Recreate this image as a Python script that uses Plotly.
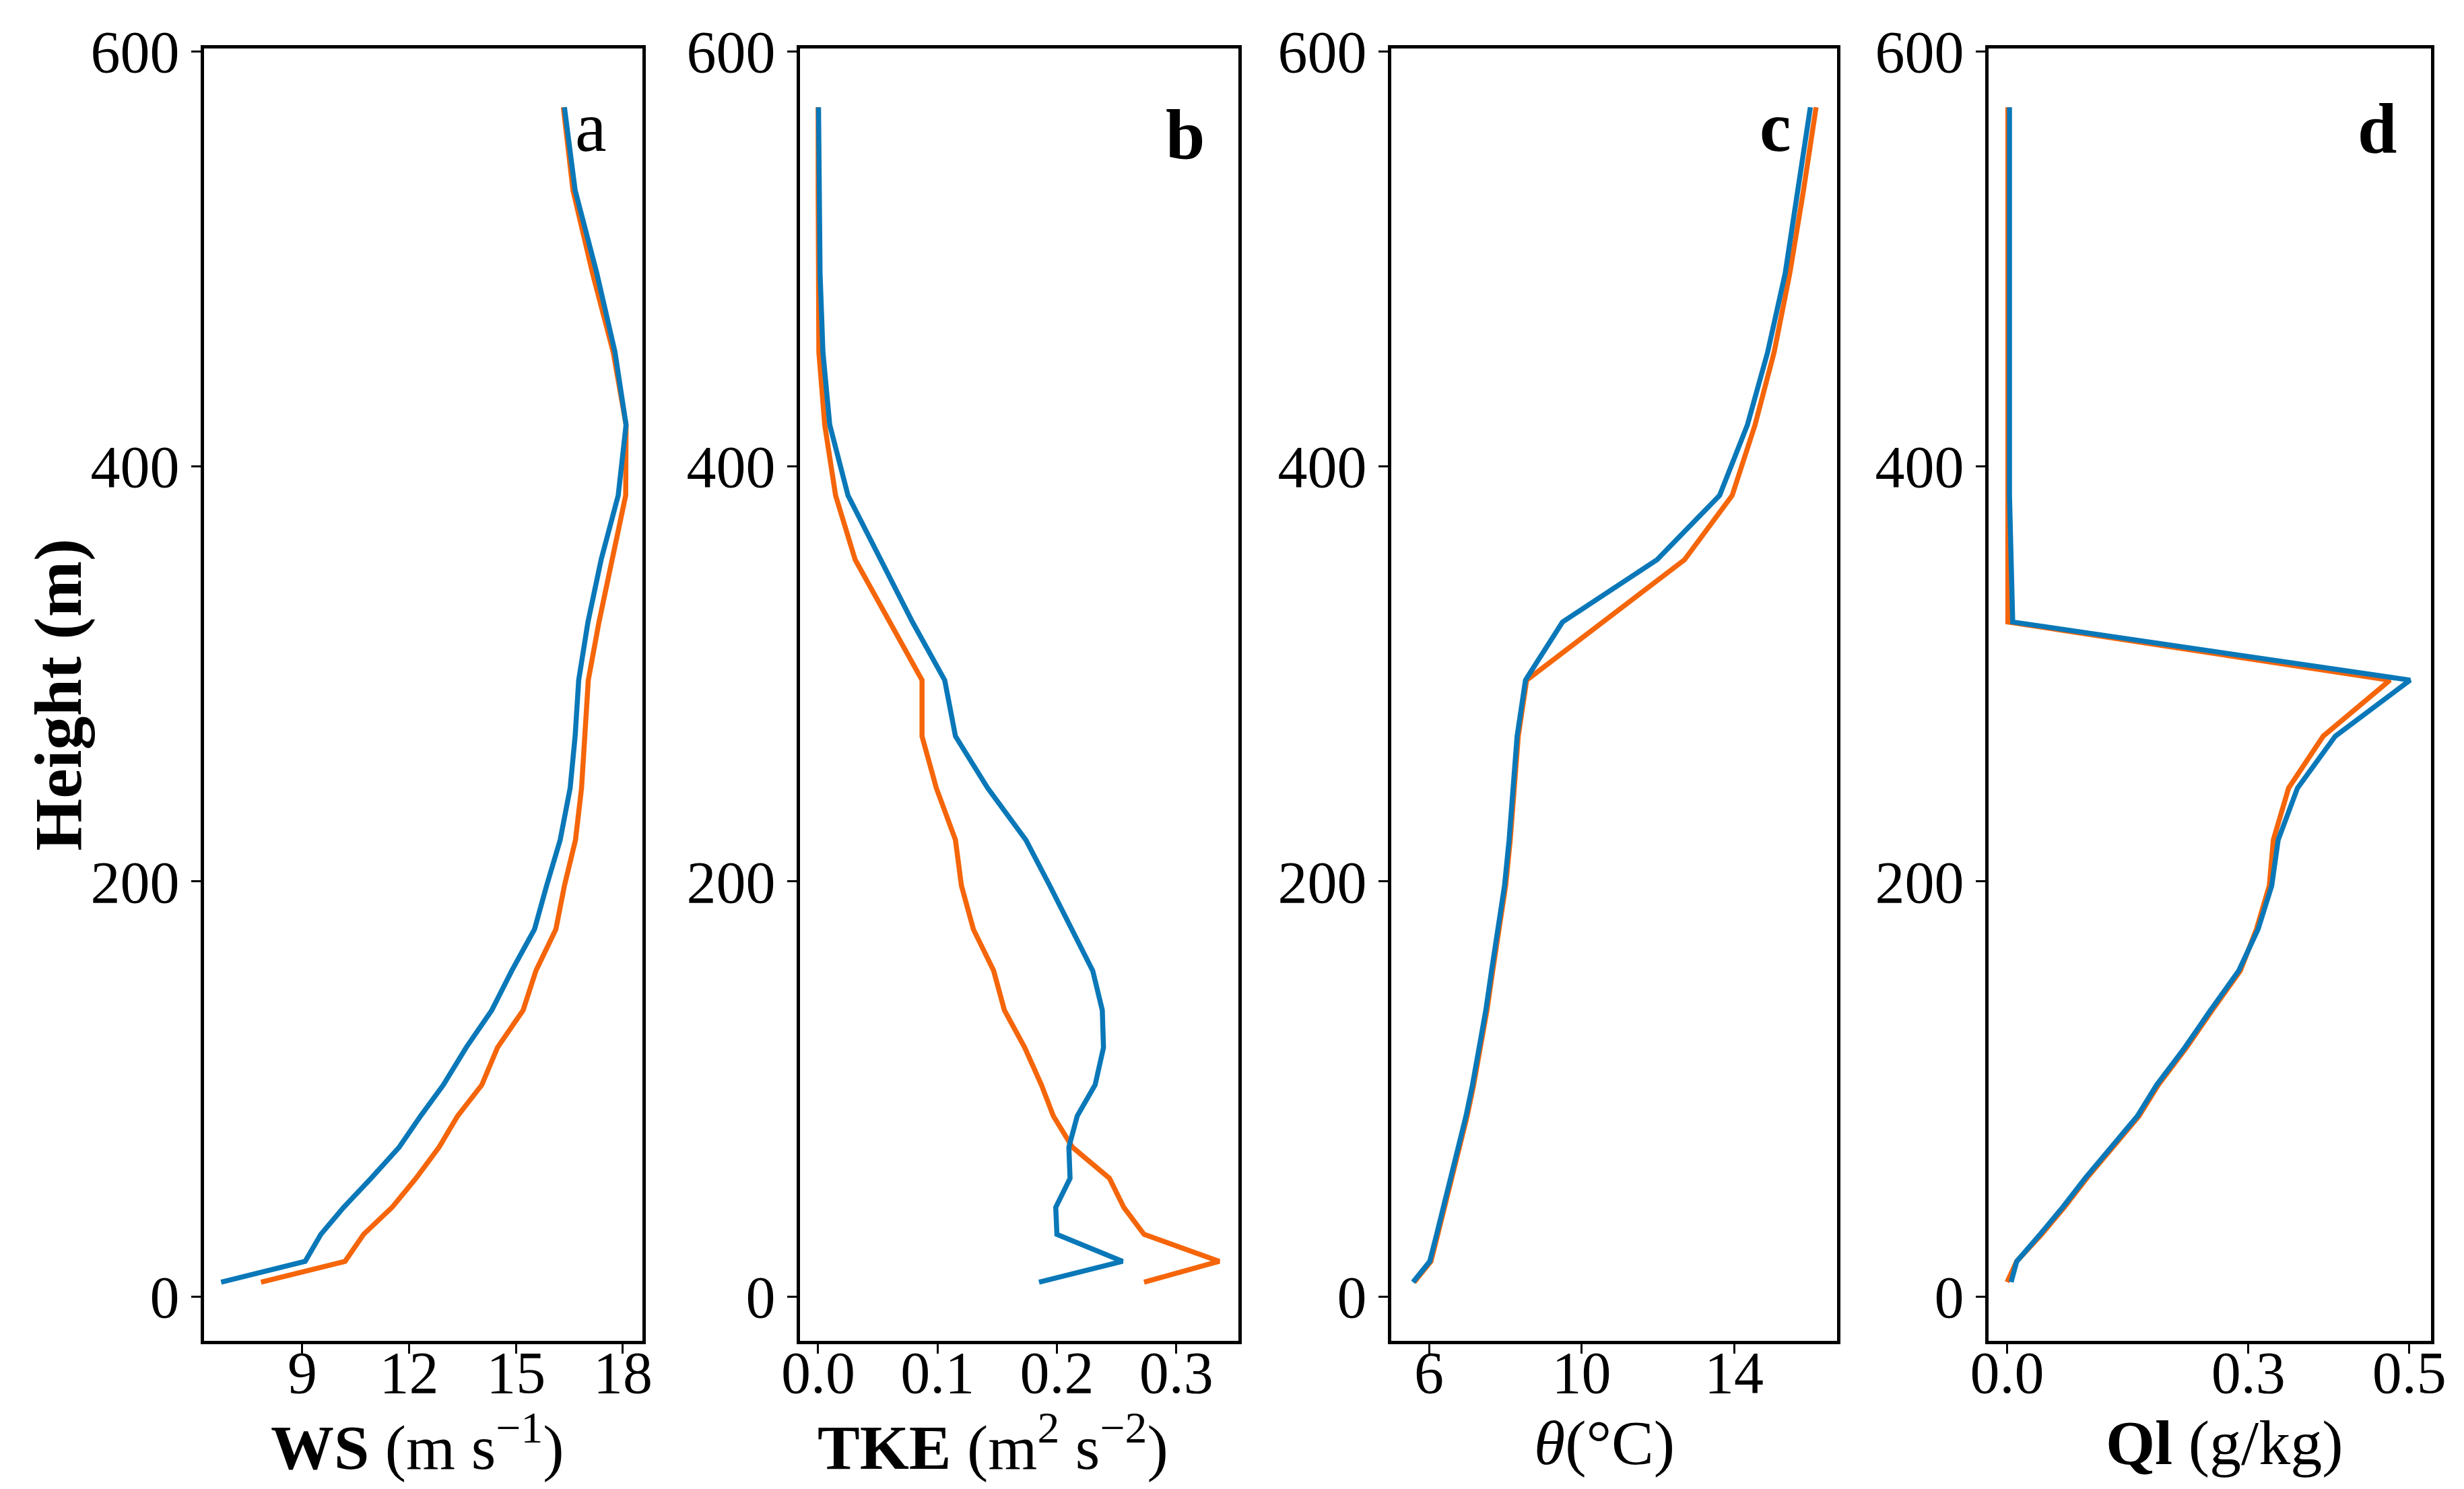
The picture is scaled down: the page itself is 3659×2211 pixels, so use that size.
import plotly.graph_objects as go

# heights of the model levels (m)
height = [7, 17, 30, 43, 57, 72, 87, 102, 120, 138, 157, 177, 198, 220, 245, 270,
          297, 325, 355, 386, 420, 455, 493, 533, 573]

# a: wind speed (m/s)
ws_blue = [6.72, 9.08, 9.52, 10.16, 10.93, 11.72, 12.32, 12.96, 13.60, 14.32, 14.88, 15.52,
           15.86, 16.24, 16.52, 16.66, 16.76, 17.02, 17.39, 17.87, 18.09, 17.78, 17.27, 16.66, 16.36]
ws_orange = [7.84, 10.20, 10.72, 11.52, 12.19, 12.84, 13.36, 14.04, 14.48, 15.20, 15.56, 16.12,
             16.36, 16.67, 16.84, 16.94, 17.03, 17.33, 17.69, 18.08, 18.09, 17.73, 17.15, 16.60, 16.33]

# b: turbulent kinetic energy (m2/s2)
tke_blue = [0.185, 0.255, 0.200, 0.199, 0.211, 0.210, 0.217, 0.232, 0.239, 0.238, 0.230, 0.213,
            0.194, 0.174, 0.142, 0.115, 0.106, 0.079, 0.052, 0.025, 0.0097, 0.004, 0.0016, 0.0006, 0.0003]
tke_orange = [0.273, 0.336, 0.273, 0.256, 0.244, 0.213, 0.197, 0.187, 0.173, 0.156, 0.147, 0.130,
              0.120, 0.115, 0.099, 0.087, 0.087, 0.060, 0.031, 0.0146, 0.0055, 0.0006, 0.0, 0.0, 0.0]

# c: potential temperature (degC)
theta_blue = [5.58, 6.02, 6.20, 6.38, 6.57, 6.77, 6.97, 7.14, 7.33, 7.49, 7.64, 7.80,
              7.98, 8.10, 8.19, 8.31, 8.53, 9.50, 11.98, 13.62, 14.35, 14.88, 15.34, 15.68, 16.00]
theta_orange = [5.61, 6.05, 6.23, 6.41, 6.60, 6.80, 7.00, 7.17, 7.36, 7.52, 7.67, 7.83,
                8.01, 8.13, 8.22, 8.34, 8.56, 10.55, 12.70, 13.95, 14.55, 15.05, 15.46, 15.82, 16.15]

# d: liquid water (g/kg)
ql_blue = [0.005, 0.012, 0.041, 0.069, 0.097, 0.129, 0.162, 0.186, 0.221, 0.253, 0.288, 0.312,
           0.329, 0.337, 0.361, 0.408, 0.501, 0.007, 0.005, 0.003, 0.003, 0.003, 0.003, 0.003, 0.003]
ql_orange = [0.000, 0.012, 0.043, 0.071, 0.099, 0.131, 0.164, 0.188, 0.223, 0.255, 0.290, 0.310,
             0.326, 0.331, 0.350, 0.393, 0.476, 0.001, 0.001, 0.001, 0.001, 0.001, 0.001, 0.001, 0.001]

panels = [
    (ws_orange, ws_blue, [6.24, 18.55], [9, 12, 15, 18], ["9", "12", "15", "18"],
     "<b>WS</b> (m s<sup>−1</sup>)", "a"),
    (tke_orange, tke_blue, [-0.0152, 0.352], [0.0, 0.1, 0.2, 0.3], ["0.0", "0.1", "0.2", "0.3"],
     "<b>TKE</b> (m<sup>2</sup> s<sup>−2</sup>)", "<b>b</b>"),
    (theta_orange, theta_blue, [5.01, 16.70], [6, 10, 14], ["6", "10", "14"],
     "<i>θ</i>(°C)", "<b>c</b>"),
    (ql_orange, ql_blue, [-0.023, 0.527], [0.0, 0.3, 0.5], ["0.0", "0.3", "0.5"],
     "<b>Ql</b> (g/kg)", "<b>d</b>"),
]

W, H = 3659, 2211
x_px = [(295, 946), (1180, 1831), (2058, 2720), (2945, 3602)]
y_dom = [1 - 1983 / H, 1 - 64 / H]
label_pos = [(869, 181), (1752, 192), (2628, 181), (3522, 184)]
title_x = [612, 1466, 2374, 3295]

BLUE = "#0a78b8"
ORANGE = "#f5650a"
FONT = "Liberation Serif"

fig = go.Figure()
annotations = []
for i, (orange, blue, xr, tv, tt, xtitle, letter) in enumerate(panels):
    n = "" if i == 0 else str(i + 1)
    fig.add_trace(go.Scatter(x=orange, y=height, mode="lines", line=dict(color=ORANGE, width=7.5),
                             xaxis="x" + n, yaxis="y" + n, showlegend=False))
    fig.add_trace(go.Scatter(x=blue, y=height, mode="lines", line=dict(color=BLUE, width=7.5),
                             xaxis="x" + n, yaxis="y" + n, showlegend=False))
    dom = [x_px[i][0] / W, x_px[i][1] / W]
    axis_common = dict(showline=True, linecolor="black", linewidth=5, mirror=True,
                       ticks="outside", ticklen=14, tickwidth=3, tickcolor="black",
                       showgrid=False, zeroline=False, automargin=False,
                       tickfont=dict(family=FONT, size=88, color="black"))
    fig.update_layout({
        "xaxis" + n: dict(domain=dom, range=xr, tickvals=tv, ticktext=tt,
                          anchor="y" + n, ticklabelstandoff=-48, **axis_common),
        "yaxis" + n: dict(domain=y_dom, range=[-21.3, 601.3], tickvals=[0, 200, 400, 600],
                          anchor="x" + n, **axis_common),
    })
    annotations.append(dict(text=xtitle, xref="paper", yref="paper",
                            x=title_x[i] / W, y=1 - 2134 / H,
                            xanchor="center", yanchor="middle", showarrow=False,
                            font=dict(family=FONT, size=94, color="black")))
    annotations.append(dict(text=letter, xref="paper", yref="paper",
                            x=label_pos[i][0] / W, y=1 - label_pos[i][1] / H,
                            xanchor="center", yanchor="middle", showarrow=False,
                            font=dict(family=FONT, size=105, color="black")))

annotations.append(dict(text="<b>Height (m)</b>", xref="paper", yref="paper",
                        x=78 / W, y=(y_dom[0] + y_dom[1]) / 2, textangle=-90,
                        xanchor="center", yanchor="middle", showarrow=False,
                        font=dict(family=FONT, size=100, color="black")))

fig.update_layout(width=W, height=H, margin=dict(l=0, r=0, t=0, b=0, autoexpand=False),
                  paper_bgcolor="white", plot_bgcolor="white",
                  annotations=annotations)

fig.write_html("out.html")
